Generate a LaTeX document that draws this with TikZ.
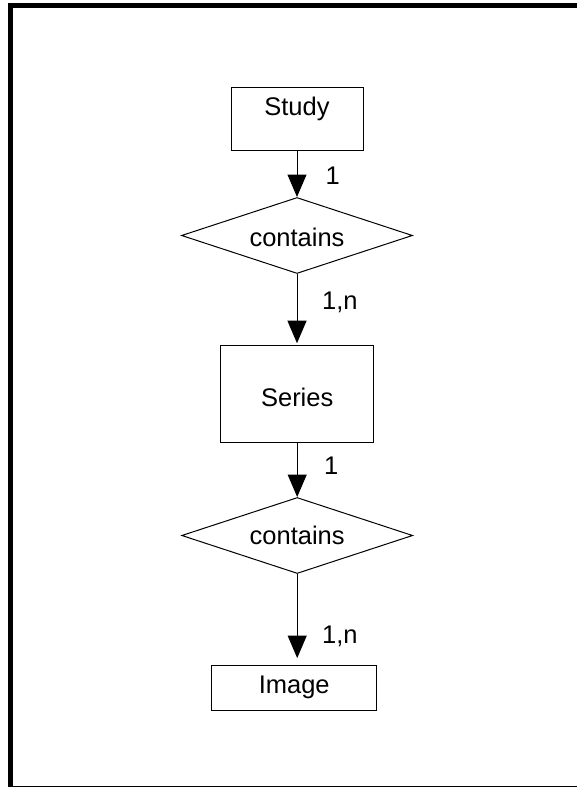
\documentclass[tikz,border=0pt]{standalone}
\usepackage{fontspec}
\setmainfont{Liberation Sans}
\usetikzlibrary{shapes.geometric,arrows.meta}

\begin{document}
\begin{tikzpicture}[x=1pt,y=-1pt,
  every node/.style={font=\fontsize{25.5}{30}\selectfont},
  entity/.style={draw,line width=1pt,rectangle,inner sep=0pt},
  relation/.style={draw,line width=1pt,diamond,aspect=3,inner sep=0pt,
    minimum width=231pt,minimum height=76pt},
  link/.style={line width=1pt,-{Triangle[width=19pt,length=22.5pt]}},
  card/.style={anchor=base west,inner sep=0pt}]

  \useasboundingbox (0,0) rectangle (576,787);

  % outer frame
  \draw[line width=5pt] (10.5,5.5) rectangle (581,788.5);

  % entities and relationships
  \node[entity,minimum width=132pt,minimum height=63pt,
        text height=0pt,text depth=7.4pt] (study) at (297,119.4) {Study};
  \node[relation,text height=21pt,text depth=0pt] (rel1) at (297,235.5) {contains};
  \node[entity,minimum width=153pt,minimum height=96.6pt,
        text height=24pt,text depth=0pt] (series) at (297.2,394) {Series};
  \node[relation,text height=18pt,text depth=0pt] (rel2) at (297.2,535.5) {contains};
  \node[entity,minimum width=165pt,minimum height=45.7pt,
        text height=10.8pt,text depth=0pt] (image) at (294.2,687.9) {Image};

  % connectors
  \draw[link] (study.south) -- (rel1.north);
  \draw[link,shorten >=2pt] (rel1.south) -- (series.north -| rel1.south);
  \draw[link] (series.south) -- (rel2.north);
  \draw[link,shorten >=6.5pt] (rel2.south) -- (image.north -| rel2.south);

  % cardinalities
  \node[card] (c1) at (325.5,184.3) {1};
  \node[card] (c2) at (322,309.5) {1,n};
  \node[card] (c3) at (324,474.5) {1};
  \node[card] (c4) at (322,643.3) {1,n};
\end{tikzpicture}
\end{document}
